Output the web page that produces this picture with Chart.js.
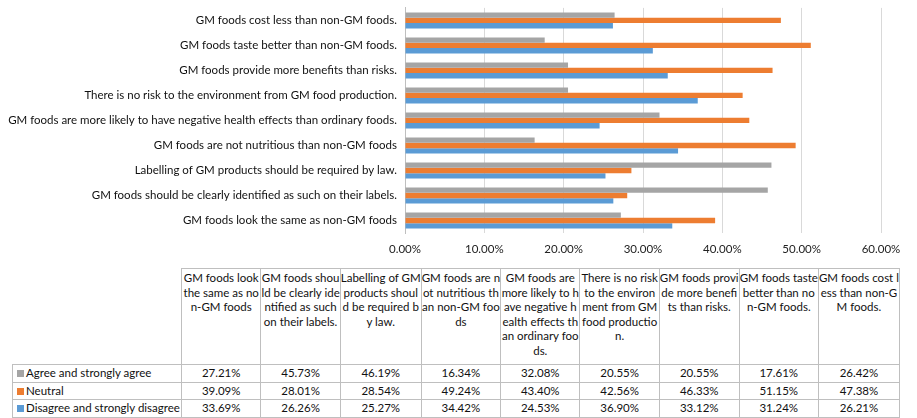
<!DOCTYPE html>
<html>
<head>
<meta charset="utf-8">
<script src="https://cdn.jsdelivr.net/npm/chart.js@4"></script>
<style>
  body { margin: 0; background: #fff; font-family: Lato, "Open Sans", sans-serif; }
  #wrap { position: relative; width: 917px; height: 418px; overflow: hidden; }
  #chartBox { position: absolute; left: 0; top: -7px; width: 917px; height: 272px; }
  #dataTable {
    position: absolute; left: 12px; top: 268px;
    border-collapse: collapse; table-layout: fixed;
    font-size: 11.5px; color: #111;
  }
  #dataTable td { border: 1px solid #bfbfbf; padding: 0; }
  #dataTable thead td {
    height: 93px; vertical-align: top; text-align: center;
    line-height: 14.5px; padding-top: 2px; white-space: nowrap;
  }
  #dataTable thead td.corner { border-top: none; border-left: none; }
  #dataTable tbody td { height: 16.5px; line-height: 16px; text-align: center; }
  #dataTable tbody td.name { text-align: left; padding-left: 4px; white-space: nowrap; }
  .key { display: inline-block; width: 7px; height: 7px; margin-right: 2px; vertical-align: 0px; }
</style>
</head>
<body>
<div id="wrap">
  <div id="chartBox"><canvas id="gmChart"></canvas></div>
  <table id="dataTable"></table>
</div>
<script>
// statements, in table order (bottom bar group first)
const statements = [
  "GM foods look the same as non-GM foods",
  "GM foods should be clearly identified as such on their labels.",
  "Labelling of GM products should be required by law.",
  "GM foods are not nutritious than non-GM foods",
  "GM foods are more likely to have negative health effects than ordinary foods.",
  "There is no risk to the environment from GM food production.",
  "GM foods provide more benefits than risks.",
  "GM foods taste better than non-GM foods.",
  "GM foods cost less than non-GM foods.",
];

// same statements, wrapped as in the table header
const headerLines = [
  ["GM foods look", "the same as no", "n-GM foods"],
  ["GM foods shou", "ld be clearly ide", "ntified as such", "on their labels."],
  ["Labelling of GM", "products shoul", "d be required b", "y law."],
  ["GM foods are n", "ot nutritious th", "an non-GM foo", "ds"],
  ["GM foods are", "more likely to h", "ave negative h", "ealth effects th", "an ordinary foo", "ds."],
  ["There is no risk", "to the environ", "ment from GM", "food productio", "n."],
  ["GM foods provi", "de more benefi", "ts than risks."],
  ["GM foods taste", "better than no", "n-GM foods."],
  ["GM foods cost l", "ess than non-G", "M foods."],
];

const agree = [27.21, 45.73, 46.19, 16.34, 32.08, 20.55, 20.55, 17.61, 26.42];
const neutral = [39.09, 28.01, 28.54, 49.24, 43.40, 42.56, 46.33, 51.15, 47.38];
const disagree = [33.69, 26.26, 25.27, 34.42, 24.53, 36.90, 33.12, 31.24, 26.21];

const seriesNames = ["Agree and strongly agree", "Neutral", "Disagree and strongly disagree"];
const seriesColors = ["#a5a5a5", "#ed7d31", "#5b9bd5"];
const xTicks = [0, 10, 20, 30, 40, 50, 60];

// chart: Excel lists the first category at the bottom, so flip for Chart.js
const rev = (a) => a.slice().reverse();
const allSeries = [agree, neutral, disagree];

new Chart(document.getElementById("gmChart"), {
  type: "bar",
  data: {
    labels: rev(statements),
    datasets: allSeries.map((vals, i) => ({
      label: seriesNames[i],
      data: rev(vals),
      backgroundColor: seriesColors[i],
      barPercentage: 1,
      categoryPercentage: 0.64,
    })),
  },
  options: {
    indexAxis: "y",
    responsive: true,
    maintainAspectRatio: false,
    animation: false,
    layout: { padding: { top: 6, right: 36, left: 0, bottom: 0 } },
    plugins: { legend: { display: false }, tooltip: { enabled: false } },
    scales: {
      x: {
        min: xTicks[0],
        max: xTicks[xTicks.length - 1],
        afterBuildTicks: (scale) => { scale.ticks = xTicks.map((v) => ({ value: v })); },
        afterFit: (scale) => { scale.height = 32; },
        grid: { color: "#d9d9d9", drawTicks: false },
        border: { display: false },
        ticks: {
          padding: 9,
          color: "#222",
          font: { family: "Lato", size: 11.5 },
          maxRotation: 0,
          callback: (v) => Number(v).toFixed(2) + "%",
        },
      },
      y: {
        afterFit: (scale) => { scale.width = 405; },
        grid: { display: false, drawTicks: false },
        border: { display: true, color: "#bfbfbf" },
        ticks: {
          padding: 8,
          color: "#111",
          font: { family: "Lato", size: 11.5 },
        },
      },
    },
  },
});

// data table under the chart
const table = document.getElementById("dataTable");
const colgroup = document.createElement("colgroup");
colgroup.innerHTML = `<col style="width:169px">` + statements.map(() => `<col style="width:79.4px">`).join("");
table.appendChild(colgroup);

const thead = document.createElement("thead");
const hr = document.createElement("tr");
hr.innerHTML = `<td class="corner" style="border-top:none;border-left:none"></td>` +
  headerLines.map((lines) => `<td>${lines.join("<br>")}</td>`).join("");
thead.appendChild(hr);
table.appendChild(thead);

const tbody = document.createElement("tbody");
allSeries.forEach((vals, i) => {
  const tr = document.createElement("tr");
  tr.innerHTML = `<td class="name"><span class="key" style="background:${seriesColors[i]}"></span>${seriesNames[i]}</td>` +
    vals.map((v) => `<td>${v.toFixed(2)}%</td>`).join("");
  tbody.appendChild(tr);
});
table.appendChild(tbody);
</script>
</body>
</html>
